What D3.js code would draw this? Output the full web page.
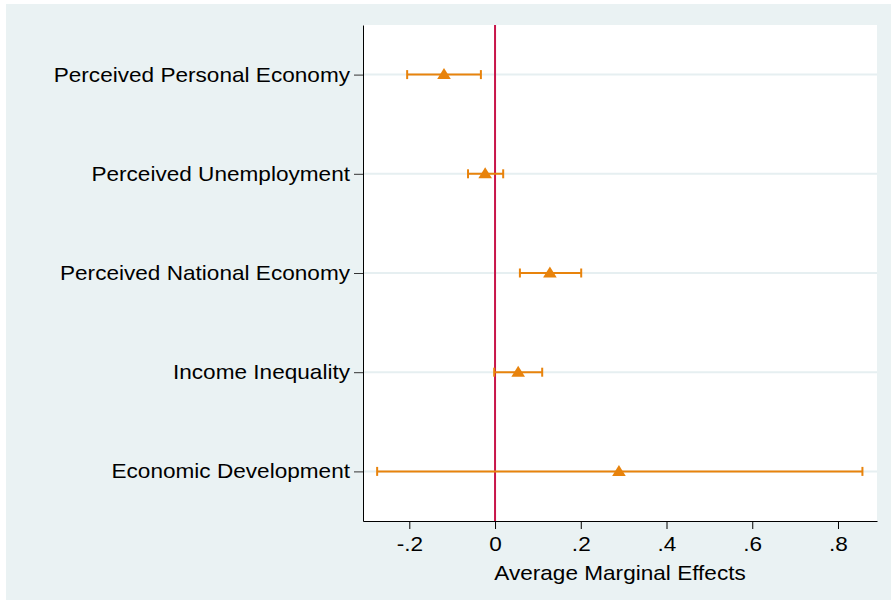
<!DOCTYPE html>
<html>
<head>
<meta charset="utf-8">
<script src="https://cdn.jsdelivr.net/npm/d3@7/dist/d3.min.js"></script>
<style>
  body { margin: 0; background: #fff; }
  svg { display: block; font-family: "Liberation Sans", Arial, sans-serif; }
</style>
</head>
<body>
<div id="chart"></div>
<script>
// categories, top to bottom
const categories = [
  "Perceived Personal Economy",
  "Perceived Unemployment",
  "Perceived National Economy",
  "Income Inequality",
  "Economic Development"
];
const estimates = [-0.119, -0.023, 0.128, 0.054, 0.289];
const lowerCI = [-0.205, -0.063, 0.058, -0.002, -0.275];
const upperCI = [-0.033, 0.019, 0.201, 0.110, 0.857];
const xTicks = [-0.2, 0, 0.2, 0.4, 0.6, 0.8];
const xTickLabels = ["-.2", "0", ".2", ".4", ".6", ".8"];
const xTitle = "Average Marginal Effects";

const width = 891, height = 601;
const plot = { left: 363, right: 877, top: 25, bottom: 521 };
const orange = "#e8830c";
const fontSize = 20;
const stretch = 1.13; // stata text is a bit wider than plain arial

const svg = d3.select("#chart").append("svg")
  .attr("width", width)
  .attr("height", height);

// outer graph region
svg.append("rect")
  .attr("x", 6).attr("y", 4)
  .attr("width", width - 6).attr("height", height - 5)
  .attr("fill", "#eaf2f3");

svg.append("rect")
  .attr("x", plot.left).attr("y", plot.top)
  .attr("width", plot.right - plot.left).attr("height", plot.bottom - plot.top)
  .attr("fill", "#fff");

const x = d3.scaleLinear()
  .domain([-0.308, 0.891])
  .range([plot.left, plot.right]);

const y = d3.scalePoint()
  .domain(categories)
  .range([plot.top, plot.bottom])
  .padding(0.5);

const data = categories.map((c, i) => ({
  name: c, est: estimates[i], lo: lowerCI[i], hi: upperCI[i]
}));

// gridlines
svg.append("g")
  .selectAll("line")
  .data(categories)
  .join("line")
  .attr("x1", plot.left).attr("x2", plot.right)
  .attr("y1", d => y(d)).attr("y2", d => y(d))
  .attr("stroke", "#e6eff1")
  .attr("stroke-width", 2);

// zero reference line
svg.append("line")
  .attr("x1", x(0)).attr("x2", x(0))
  .attr("y1", plot.top).attr("y2", plot.bottom)
  .attr("stroke", "#c8154a")
  .attr("stroke-width", 2);

// confidence intervals
const ci = svg.append("g").attr("stroke", orange).attr("stroke-width", 2);
ci.selectAll(".span")
  .data(data)
  .join("line")
  .attr("x1", d => x(d.lo)).attr("x2", d => x(d.hi))
  .attr("y1", d => y(d.name)).attr("y2", d => y(d.name));
ci.selectAll(".capl")
  .data(data)
  .join("line")
  .attr("x1", d => x(d.lo)).attr("x2", d => x(d.lo))
  .attr("y1", d => y(d.name) - 4.5).attr("y2", d => y(d.name) + 4.5);
ci.selectAll(".caph")
  .data(data)
  .join("line")
  .attr("x1", d => x(d.hi)).attr("x2", d => x(d.hi))
  .attr("y1", d => y(d.name) - 4.5).attr("y2", d => y(d.name) + 4.5);

// point estimates (triangles)
svg.append("g")
  .selectAll("path")
  .data(data)
  .join("path")
  .attr("transform", d => `translate(${x(d.est)},${y(d.name)})`)
  .attr("d", "M0,-6.5L6.8,4.5L-6.8,4.5Z")
  .attr("fill", orange);

// axes
const xAxis = svg.append("g")
  .attr("transform", `translate(0,${plot.bottom})`)
  .call(d3.axisBottom(x)
    .tickValues(xTicks)
    .tickFormat((d, i) => xTickLabels[i])
    .tickSize(8)
    .tickPadding(8)
    .tickSizeOuter(0));
xAxis.select(".domain").attr("stroke", "#000");
xAxis.selectAll(".tick line").attr("stroke", "#000");
xAxis.selectAll("text")
  .attr("font-size", fontSize)
  .attr("fill", "#000")
  .attr("font-family", "Liberation Sans, Arial, sans-serif")
  .attr("transform", `scale(${stretch},1)`);

const yAxis = svg.append("g")
  .attr("transform", `translate(${plot.left},0)`)
  .call(d3.axisLeft(y).tickSize(9).tickPadding(4).tickSizeOuter(0));
yAxis.select(".domain").attr("stroke", "#000");
yAxis.selectAll(".tick line").attr("stroke", "#333");
yAxis.selectAll("text")
  .attr("font-size", fontSize)
  .attr("fill", "#000")
  .attr("font-family", "Liberation Sans, Arial, sans-serif")
  .attr("x", -13 / stretch)
  .attr("transform", `scale(${stretch},1)`);

svg.append("g")
  .attr("transform", `translate(${(plot.left + plot.right) / 2},580) scale(${stretch},1)`)
  .append("text")
  .attr("text-anchor", "middle")
  .attr("font-size", fontSize)
  .attr("fill", "#000")
  .text(xTitle);
</script>
</body>
</html>
